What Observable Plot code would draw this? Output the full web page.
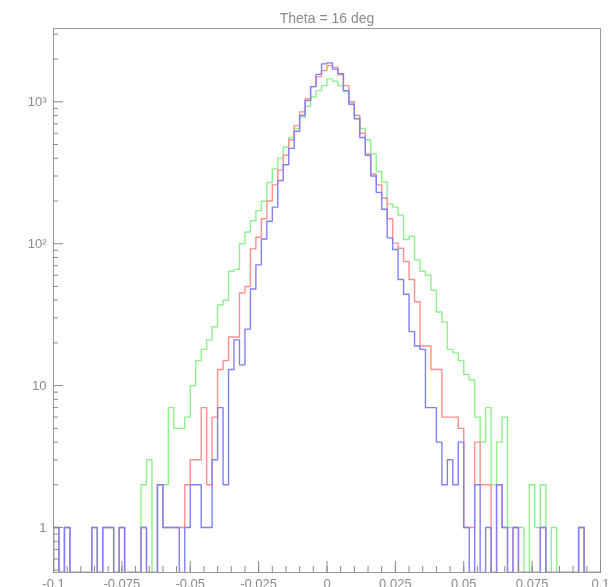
<!DOCTYPE html>
<html><head><meta charset="utf-8">
<script src="https://cdn.jsdelivr.net/npm/d3@7"></script>
<script src="https://cdn.jsdelivr.net/npm/@observablehq/plot@0.6"></script>
<style>
body{margin:0;background:#fff;}
</style></head><body>
<div id="chart"></div>
<script>
const title = "Theta = 16 deg";
const xMin = -0.1, xMax = 0.1, nBins = 100;
// counts per bin (100 bins from -0.1 to 0.1)
const green = [1,0,1,0,0,0,0,1,0,1, 1,0,1,0,0,0,2,3,0,2,
  2,7,5,5,6,10,15,18,21,26, 37,40,64,66,100,121,145,171,199,270,
  337,401,480,560,650,780,930,1080,1200,1300, 1450,1400,1300,1180,980,800,650,540,430,323,
  272,190,181,159,107,113,77,64,60,47, 33,28,18,17,15,12,11,6,4,7,
  2,4,6,1,1,1,0,2,1,2, 0,1,0,0,0,0,1,0,0,0];
const red = [1,0,1,0,0,0,0,1,0,1, 1,0,1,0,0,0,1,0,0,2,
  1,1,1,1,2,3,3,7,2,6, 13,15,22,22,45,50,92,111,150,200,
  260,330,420,540,680,850,1050,1280,1500,1660, 1800,1750,1550,1300,1000,800,600,430,310,260,
  210,150,101,93,75,56,39,19,19,13, 13,6,6,6,5,1,1,4,2,2,
  0,2,1,0,1,0,0,0,0,1, 0,0,0,0,0,0,1,0,0,0];
const blue = [1,0,1,0,0,0,0,1,0,1, 1,0,1,0,0,0,1,0,0,2,
  1,1,1,0,1,2,2,1,1,3, 7,2,13,21,14,25,48,71,108,144,
  181,279,360,470,620,800,1020,1280,1560,1850, 1880,1700,1580,1200,960,760,560,420,300,230,
  175,110,91,56,44,24,19,18,7,7, 4,2,3,2,4,1,0,2,0,1,
  0,2,1,0,1,0,0,0,0,1, 0,0,0,0,0,0,1,0,0,0];
const yMajor = [1, 10, 100, 1000];
const yLabels = ["1", "10", "10\u00B2", "10\u00B3"];
const yMinor = [0.5,0.6,0.7,0.8,0.9,2,3,4,5,6,7,8,9,20,30,40,50,60,70,80,90,200,300,400,500,600,700,800,900,2000,3000];
const xMajor = [-0.1,-0.075,-0.05,-0.025,0,0.025,0.05,0.075,0.1];
const xLabels = ["-0.1","-0.075","-0.05","-0.025","0","0.025","0.05","0.075","0.1"];
const xMinor = d3.range(-20, 21).map(k => k * 0.005);

const W = 613, H = 587, mL = 53, mR = 13, mT = 28, mB = 15;
const yDomain = [0.482, 3286];
const floor = yDomain[0];
const bw = (xMax - xMin) / nBins;

function steps(counts) {
  const pts = [{x: xMin, y: floor}];
  counts.forEach((v, i) => pts.push({x: xMin + i * bw, y: Math.max(v, floor)}));
  pts.push({x: xMax, y: Math.max(counts[counts.length - 1], floor)});
  pts.push({x: xMax, y: floor});
  return pts;
}
const series = [
  {name: "green", data: green, color: "#8ef08e"},
  {name: "red", data: red, color: "#ff8f8f"},
  {name: "blue", data: blue, color: "#8080f8"}
];
const gray = "#8a8a8a";
const plotW = W - mL - mR, plotH = H - mT - mB;
const font = "Liberation Sans, Arial, sans-serif";

const chart = Plot.plot({
  width: W, height: H,
  marginLeft: mL, marginRight: mR, marginTop: mT, marginBottom: mB,
  style: {background: "#fff", fontFamily: font},
  x: {domain: [xMin, xMax], axis: null},
  y: {type: "log", domain: yDomain, axis: null},
  marks: [
    ...series.map(s => Plot.line(steps(s.data), {
      x: "x", y: "y", curve: "step-after", stroke: s.color, strokeWidth: 1.4,
      mixBlendMode: "multiply", clip: true
    })),
    Plot.frame({stroke: "#9a9a9a", strokeWidth: 1}),
    Plot.tickY(yMajor, {y: d => d, stroke: gray, insetRight: plotW - 10}),
    Plot.tickY(yMinor, {y: d => d, stroke: gray, insetRight: plotW - 5}),
    Plot.tickX(xMajor, {x: d => d, stroke: gray, insetTop: plotH - 11}),
    Plot.tickX(xMinor, {x: d => d, stroke: gray, insetTop: plotH - 6}),
    Plot.axisY(yMajor, {tickSize: 0, tickPadding: 7, fontSize: 13, color: gray, label: null,
      tickFormat: (d, i) => yLabels[yMajor.indexOf(d)]}),
    Plot.axisX(xMajor, {tickSize: 0, tickPadding: 6, fontSize: 13, color: gray, label: null,
      tickFormat: d => xLabels[xMajor.indexOf(d)]}),
    Plot.text([title], {frameAnchor: "top", dy: -15, text: d => d, fontSize: 14, fill: gray})
  ]
});
document.getElementById("chart").appendChild(chart);
</script></body></html>
